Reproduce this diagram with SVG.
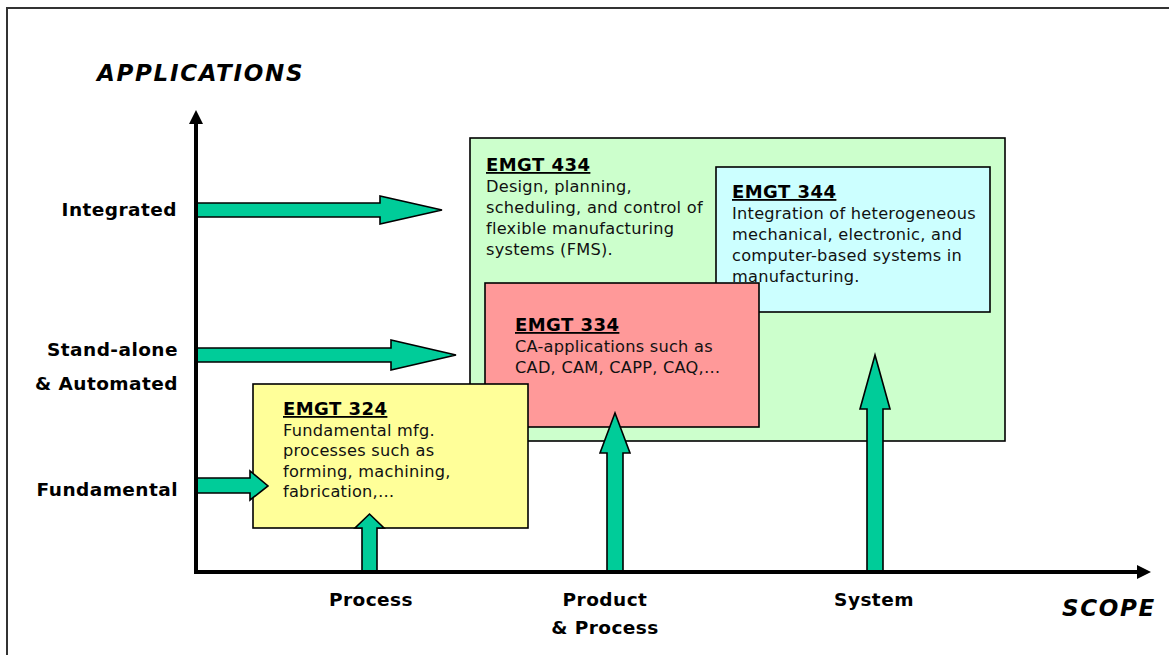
<svg xmlns="http://www.w3.org/2000/svg" width="1169" height="655" viewBox="0 0 1169 655">
  <style>
    .box { stroke: #000; stroke-width: 1.6; }
    .flow { fill: #00CC99; stroke: #000; stroke-width: 1.6; stroke-linejoin: miter; }
    .axis { stroke: #000; stroke-width: 4; fill: none; }
    .code { font-family: "DejaVu Sans", Verdana, sans-serif; font-weight: bold; font-size: 18px; letter-spacing: 0.45px; text-decoration: underline; fill: #000; }
    .body { font-family: "DejaVu Sans", Verdana, sans-serif; font-size: 16.2px; letter-spacing: 0.25px; fill: #111; }
    .lbl { font-family: "DejaVu Sans", Verdana, sans-serif; font-weight: bold; font-size: 18.5px; letter-spacing: 0.45px; fill: #000; }
    .title { font-family: "DejaVu Sans", Verdana, sans-serif; font-weight: bold; font-style: italic; font-size: 23px; letter-spacing: 1.7px; fill: #000; }
  </style>

  <rect width="1169" height="655" fill="#fff"/>
  <!-- outer frame -->
  <rect x="7" y="8" width="1180" height="660" fill="none" stroke="#333" stroke-width="2"/>

  <!-- course boxes -->
  <g id="emgt434">
    <rect class="box" x="470" y="138" width="535" height="303" fill="#CCFFCC"/>
    <text class="code" x="486" y="171">EMGT 434</text>
    <text class="body" x="486" y="192">Design, planning,</text>
    <text class="body" x="486" y="213">scheduling, and control of</text>
    <text class="body" x="486" y="234">flexible manufacturing</text>
    <text class="body" x="486" y="255">systems (FMS).</text>
  </g>
  <g id="emgt344">
    <rect class="box" x="716" y="167" width="274" height="145" fill="#CCFFFF"/>
    <text class="code" x="732" y="198">EMGT 344</text>
    <text class="body" x="732" y="219">Integration of heterogeneous</text>
    <text class="body" x="732" y="240">mechanical, electronic, and</text>
    <text class="body" x="732" y="261">computer-based systems in</text>
    <text class="body" x="732" y="282">manufacturing.</text>
  </g>
  <g id="emgt334">
    <rect class="box" x="485" y="283" width="274" height="144" fill="#FF9999"/>
    <text class="code" x="515" y="331">EMGT 334</text>
    <text class="body" x="515" y="352">CA-applications such as</text>
    <text class="body" x="515" y="373">CAD, CAM, CAPP, CAQ,…</text>
  </g>
  <g id="emgt324">
    <rect class="box" x="253" y="384" width="275" height="144" fill="#FFFF99"/>
    <text class="code" x="283" y="415">EMGT 324</text>
    <text class="body" x="283" y="436">Fundamental mfg.</text>
    <text class="body" x="283" y="456">processes such as</text>
    <text class="body" x="283" y="477">forming, machining,</text>
    <text class="body" x="283" y="497">fabrication,…</text>
  </g>

  <!-- axes and block arrows -->
  <g id="connectors">
    <polygon class="flow" points="196,203 380,203 380,196 442,210 380,224 380,217 196,217"/>
    <polygon class="flow" points="196,348 391,348 391,340 456,355 391,370 391,362 196,362"/>
    <polygon class="flow" points="196,478 250,478 250,471 268,486 250,500 250,493 196,493"/>
    <polygon class="flow" points="362,572 362,528 355,528 369.5,514 384,528 377,528 377,572"/>
    <polygon class="flow" points="607,572 607,453 600,453 615,413 630,453 623,453 623,572"/>
    <polygon class="flow" points="867,572 867,409 860,409 875,355 890,409 883,409 883,572"/>

    <line class="axis" x1="196" y1="574" x2="196" y2="122"/>
    <polygon points="196,110 189,124 203,124" fill="#000"/>
    <line class="axis" x1="194" y1="572" x2="1138" y2="572"/>
    <polygon points="1151,572 1137,565 1137,579" fill="#000"/>
  </g>

  <!-- axis titles and scale labels -->
  <g id="labels">
    <text class="title" x="97" y="81">APPLICATIONS</text>
    <text class="title" x="1156" y="616" text-anchor="end">SCOPE</text>
    <text class="lbl" x="177" y="216" text-anchor="end">Integrated</text>
    <text class="lbl" x="178" y="356" text-anchor="end">Stand-alone</text>
    <text class="lbl" x="178" y="390" text-anchor="end">&amp; Automated</text>
    <text class="lbl" x="178" y="496" text-anchor="end">Fundamental</text>
    <text class="lbl" x="371" y="606" text-anchor="middle">Process</text>
    <text class="lbl" x="605" y="606" text-anchor="middle">Product</text>
    <text class="lbl" x="605" y="634" text-anchor="middle">&amp; Process</text>
    <text class="lbl" x="874" y="606" text-anchor="middle">System</text>
  </g>
</svg>
